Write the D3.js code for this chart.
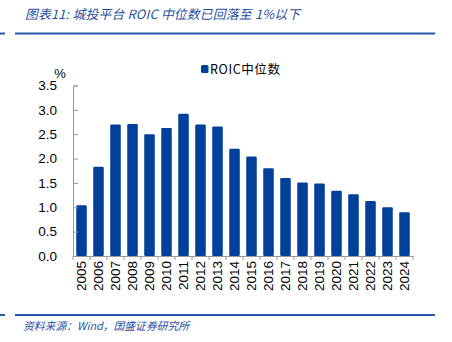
<!DOCTYPE html>
<html><head><meta charset="utf-8">
<script src="https://cdn.jsdelivr.net/npm/d3@7"></script>
<style>body{margin:0;background:#fff}svg{display:block}</style>
</head><body>
<script>
const years = ["2005","2006","2007","2008","2009","2010","2011","2012","2013","2014","2015","2016","2017","2018","2019","2020","2021","2022","2023","2024"];
const roic = [1.04,1.83,2.70,2.71,2.50,2.63,2.92,2.70,2.66,2.20,2.04,1.80,1.60,1.51,1.49,1.34,1.27,1.13,1.00,0.90];
const yTicks = [0,0.5,1.0,1.5,2.0,2.5,3.0,3.5];
const seriesName = "ROIC中位数";
const titleText = "图表11:  城投平台 ROIC 中位数已回落至 1%以下";
const sourceText = "资料来源：Wind，国盛证券研究所";

const W=452,H=342;
const svg=d3.select("body").append("svg").attr("width",W).attr("height",H);
const blue="#2559a8", barColor="#00409a", axisColor="#999";
const cn="'Noto Sans CJK SC','Noto Sans',sans-serif";

svg.append("text").attr("x",25).attr("y",19).attr("fill","#1f4e9e")
  .attr("font-family",cn).attr("font-style","italic").attr("font-size",12.8).attr("letter-spacing",0.2).text(titleText);
svg.append("rect").attr("x",0).attr("y",32.5).attr("width",5).attr("height",2).attr("fill",blue);
svg.append("rect").attr("x",15).attr("y",32.5).attr("width",420).attr("height",2).attr("fill",blue);
svg.append("rect").attr("x",0).attr("y",314).attr("width",5).attr("height",2).attr("fill",blue);
svg.append("rect").attr("x",15).attr("y",314).attr("width",420).attr("height",2).attr("fill",blue);
svg.append("text").attr("x",23).attr("y",330).attr("fill","#1f4e9e")
  .attr("font-family",cn).attr("font-style","italic").attr("font-size",10.8).text(sourceText);

const x=d3.scaleBand().domain(years).range([73,413]).paddingInner(0.38).paddingOuter(0.19);
const y=d3.scaleLinear().domain([0,3.5]).range([256,85.5]);

svg.append("g").selectAll("rect").data(roic).join("rect")
  .attr("x",(d,i)=>x(years[i])).attr("width",x.bandwidth())
  .attr("y",d=>y(d)).attr("height",d=>y(0)-y(d)).attr("rx",1.2).attr("fill",barColor);

// y axis
const ya=svg.append("g").attr("transform","translate(73,0)")
  .call(d3.axisLeft(y).tickValues(yTicks).tickFormat(d3.format(".1f")).tickSize(-5).tickPadding(16));
ya.select(".domain").attr("stroke",axisColor);
ya.selectAll(".tick line").attr("stroke",axisColor);
ya.selectAll("text").attr("font-family","'Liberation Sans',Arial,sans-serif").attr("font-size",13.5).attr("fill","#000");
svg.append("text").attr("x",60).attr("y",78).attr("text-anchor","middle")
  .attr("font-family","'Liberation Sans',Arial,sans-serif").attr("font-size",13).text("%");

// x axis
const xa=svg.append("g").attr("transform","translate(0,256)")
  .call(d3.axisBottom(x).tickSize(0).tickPadding(0));
xa.select(".domain").attr("stroke",axisColor);
const bnds=years.map((d,i)=>73+i*x.step()).concat([413]);
xa.selectAll(".bnd").data(bnds).join("line").attr("x1",d=>d).attr("x2",d=>d).attr("y1",0).attr("y2",4).attr("stroke",axisColor);
xa.selectAll(".tick text").attr("font-family","'Liberation Sans',Arial,sans-serif").attr("font-size",13.5).attr("fill","#000")
  .attr("transform","rotate(-90)").attr("text-anchor","end").attr("dy","0.35em").attr("x",-5).attr("y",0);

// legend
svg.append("rect").attr("x",201).attr("y",65).attr("width",7.5).attr("height",8).attr("rx",1.5).attr("fill",barColor);
svg.append("text").attr("x",210).attr("y",74).attr("font-family",cn).attr("font-size",12.5).attr("letter-spacing",0.6).attr("fill","#000").text(seriesName);
</script>
</body></html>
